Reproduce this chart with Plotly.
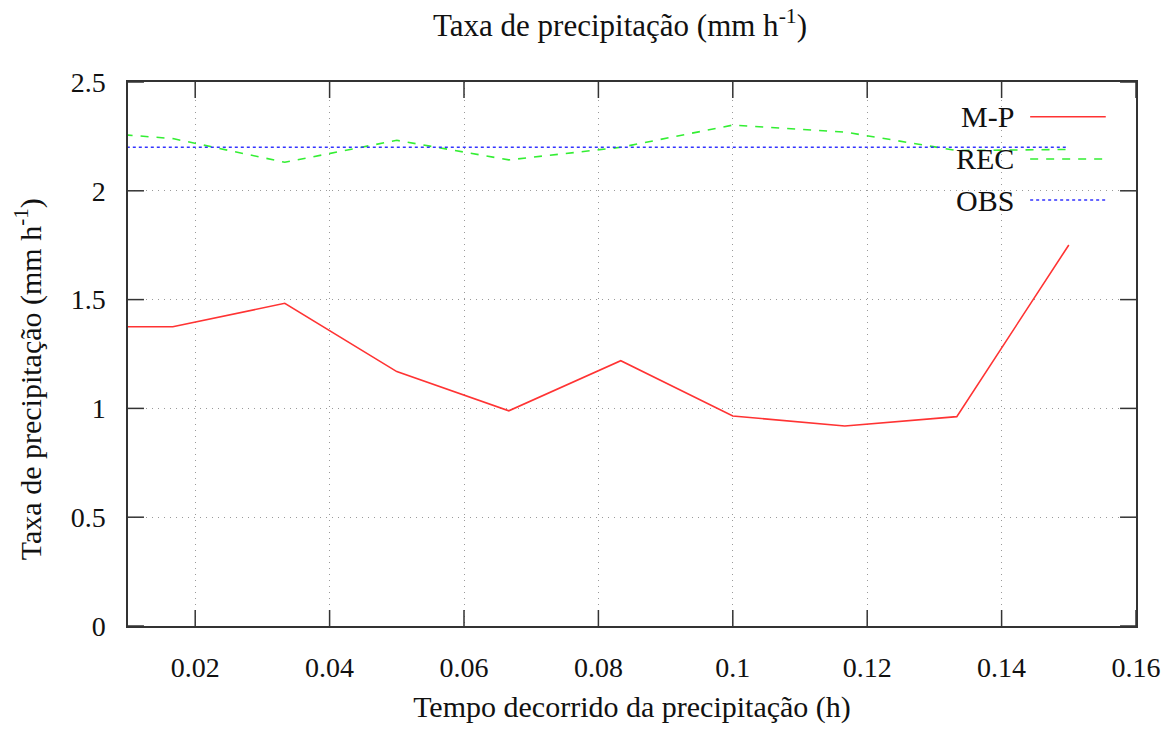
import plotly.graph_objects as go

# Elapsed time (h) and precipitation rates (mm h^-1)
tempo = [0.0, 0.01667, 0.03333, 0.05, 0.06667, 0.08333, 0.1, 0.11667, 0.13333, 0.15]
mp = [1.375, 1.375, 1.483, 1.169, 0.989, 1.219, 0.965, 0.919, 0.962, 1.751]
rec = [2.28, 2.24, 2.131, 2.232, 2.142, 2.20, 2.302, 2.270, 2.185, 2.19]
obs = [2.2, 2.2, 2.2, 2.2, 2.2, 2.2, 2.2, 2.2, 2.2, 2.2]

series_names = ["M-P", "REC", "OBS"]
series_colors = ["#ff3333", "#33ee33", "#3333ff"]
series_dash = ["solid", "8px,8px", "3px,3px"]

x_ticks = [0.02, 0.04, 0.06, 0.08, 0.1, 0.12, 0.14, 0.16]
x_labels = ["0.02", "0.04", "0.06", "0.08", "0.1", "0.12", "0.14", "0.16"]
y_ticks = [0, 0.5, 1, 1.5, 2, 2.5]
y_labels = ["0", "0.5", "1", "1.5", "2", "2.5"]

FONT = "Liberation Serif"
TXT = "#111111"
AXC = "#333333"
TICK_X = 16 / 1010  # inward tick length as a fraction of plot width
TICK_Y = 16 / 544   # inward tick length as a fraction of plot height

fig = go.Figure()
for name, vals, col, dash in zip(series_names, [mp, rec, obs], series_colors, series_dash):
    fig.add_trace(go.Scatter(x=tempo, y=vals, mode="lines", name=name,
                             line=dict(color=col, width=1.6, dash=dash),
                             showlegend=False))

axis_common = dict(
    showline=True, linecolor=AXC, linewidth=1.5, mirror=True,
    ticks="", showgrid=True, gridcolor="#9a9a9a", griddash="1px,5px",
    gridwidth=1.3, zeroline=False,
    tickfont=dict(family=FONT, size=28, color=TXT),
)

fig.update_xaxes(range=[0.01, 0.16], tickvals=x_ticks, ticktext=x_labels,
                 ticklabelstandoff=16,
                 title=dict(text="Tempo decorrido da precipitação (h)",
                            font=dict(family=FONT, size=30, color=TXT),
                            standoff=14),
                 **axis_common)
fig.update_yaxes(range=[0, 2.5], tickvals=y_ticks, ticktext=y_labels,
                 ticklabelstandoff=15, **axis_common)

# Inward tick marks on all four sides
for t in x_ticks:
    for y0, y1 in [(0, TICK_Y), (1 - TICK_Y, 1)]:
        fig.add_shape(type="line", xref="x", yref="paper", x0=t, x1=t,
                      y0=y0, y1=y1, line=dict(color=AXC, width=1.5))
for t in y_ticks:
    for x0, x1 in [(0, TICK_X), (1 - TICK_X, 1)]:
        fig.add_shape(type="line", xref="paper", yref="y", x0=x0, x1=x1,
                      y0=t, y1=t, line=dict(color=AXC, width=1.5))

# Rotated y-axis title
fig.add_annotation(text="Taxa de precipitação (mm h<sup>-1</sup>)",
                   xref="paper", yref="paper", x=-0.099, y=0.454,
                   xanchor="center", yanchor="middle", textangle=-90,
                   showarrow=False, font=dict(family=FONT, size=30, color=TXT))

# Key: label on the left, line sample on the right
key_y = [0.936, 0.8585, 0.783]
for name, col, dash, ky in zip(series_names, series_colors, series_dash, key_y):
    fig.add_annotation(text=name, xref="paper", yref="paper", x=0.881, y=ky,
                       xanchor="right", yanchor="middle", showarrow=False,
                       font=dict(family=FONT, size=30, color=TXT))
    fig.add_shape(type="line", xref="paper", yref="paper",
                  x0=0.895, x1=0.970, y0=ky, y1=ky,
                  line=dict(color=col, width=1.6, dash=dash))

fig.update_layout(
    width=1173, height=754,
    margin=dict(l=128, r=35, t=82, b=128),
    paper_bgcolor="white", plot_bgcolor="white",
    title=dict(text="Taxa de precipitação (mm h<sup>-1</sup>)",
               x=0.5286, xanchor="center", y=0.967, yanchor="middle",
               font=dict(family=FONT, size=31, color=TXT)),
    showlegend=False,
)

fig.write_html("out.html")
